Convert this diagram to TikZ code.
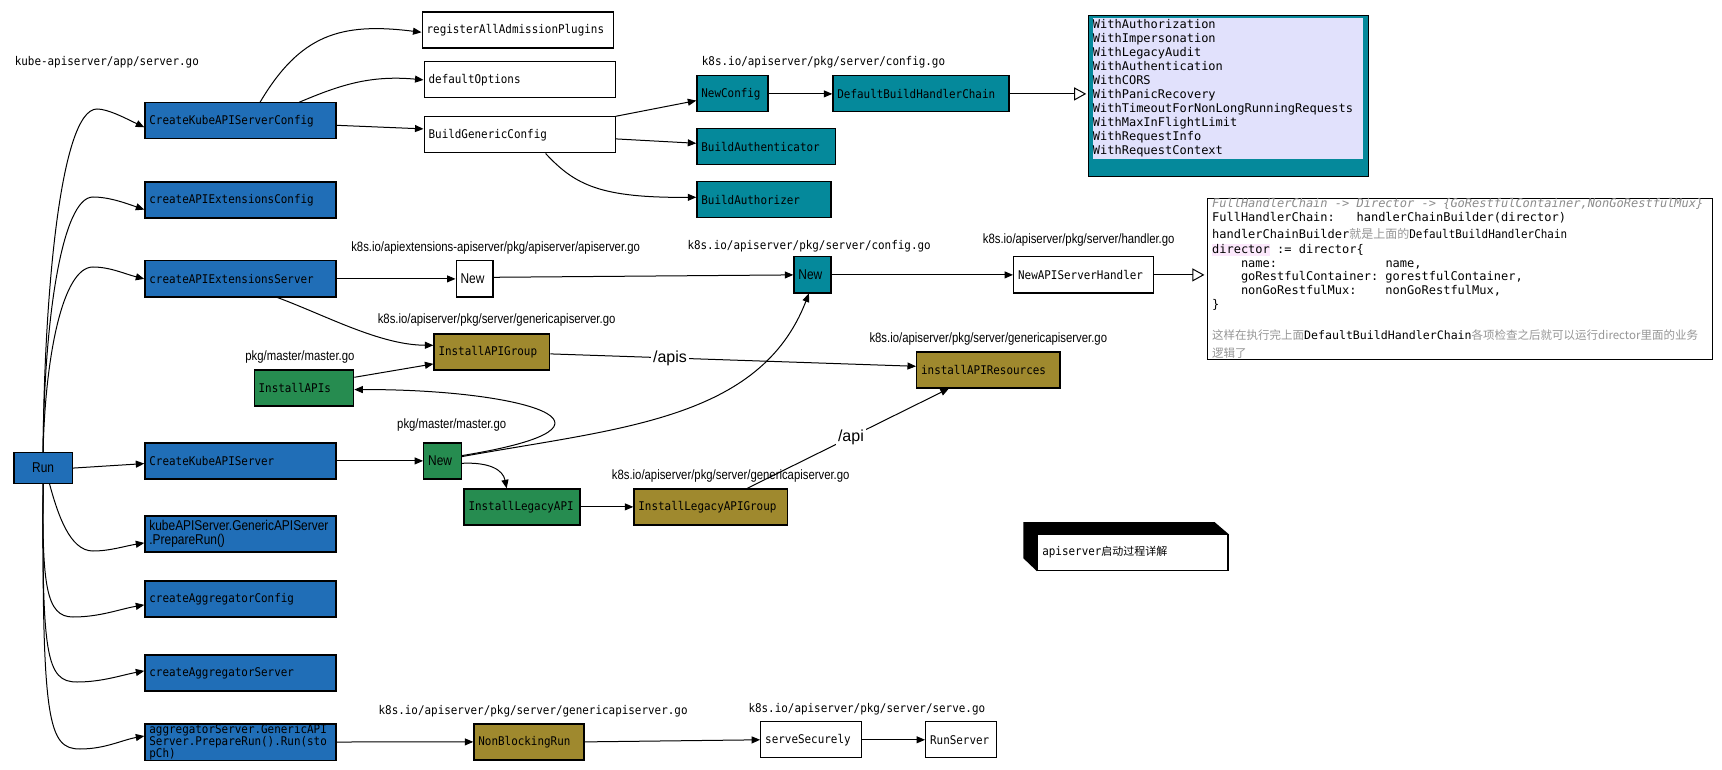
\documentclass[tikz,border=0pt]{standalone}
\usepackage{fontspec}
\usetikzlibrary{arrows.meta}
\newfontfamily\nmono[FakeStretch=0.91]{DejaVu Sans Mono}
\newfontfamily\wmono[ItalicFont={DejaVu Sans Mono Oblique}]{DejaVu Sans Mono}
\newfontfamily\hsans[FakeStretch=0.84]{Liberation Sans}
\newfontfamily\hsansb{Liberation Sans}
\newfontfamily\cjk{Noto Sans CJK SC}
\newcommand\fntN{\nmono\fontsize{12}{14}\selectfont}
\newcommand\fntS{\hsans\fontsize{13.5}{14}\selectfont}
\newcommand\fntB{\hsans\fontsize{14.2}{14}\selectfont}
\newcommand\fntW{\wmono\fontsize{12}{14}\selectfont}
\newcommand\fntL{\hsansb\fontsize{16}{16}\selectfont}
\newcommand\fntCs{\cjk\fontsize{11.5}{14}\selectfont}
\definecolor{cblue}{RGB}{32,110,183}
\definecolor{cteal}{RGB}{5,137,155}
\definecolor{colive}{RGB}{159,137,46}
\definecolor{cgreen}{RGB}{38,140,80}
\definecolor{clav}{RGB}{225,225,252}
\definecolor{cgray}{RGB}{140,140,140}
\definecolor{cgray2}{RGB}{150,150,150}
\definecolor{pinkhl}{RGB}{252,232,252}
\begin{document}
\begin{tikzpicture}[x=1pt,y=-1pt,
  bx/.style={draw=black,line width=1.2pt,anchor=north west,inner xsep=4.5pt,inner ysep=0pt,align=left,font=\fntN,minimum height=36pt},
  bbox/.style={bx,fill=cblue},
  tbox/.style={bx,fill=cteal},
  obox/.style={bx,fill=colive},
  gbox/.style={bx,fill=cgreen},
  wbx/.style={bx,fill=white},
  lbl/.style={anchor=west,inner sep=0pt,font=\fntS},
  mlbl/.style={anchor=west,inner sep=0pt,font=\fntN},
  arr/.style={line width=1pt,-{Triangle[length=8.5pt,width=7pt]}},
  harr/.style={line width=1pt,-{Triangle[open,length=12pt,width=13pt]}},
  cl/.style={anchor=base west,inner sep=0pt,font=\fntW},
]
\fill[white] (0,0) rectangle (1722,770);
\useasboundingbox (0,0) rectangle (1722,770);

% blue column
\node[bbox,text width=182pt] (ckc) at (144.3,102.3) {CreateKubeAPIServerConfig};
\node[bbox,text width=182pt] (caec) at (144.3,181.5) {createAPIExtensionsConfig};
\node[bbox,text width=182pt] (caes) at (144.3,260.3) {createAPIExtensionsServer};
\node[bbox,text width=182pt] (cks) at (144.3,442.3) {CreateKubeAPIServer};
\node[bbox,text width=182pt,font=\fntB] (kpr) at (144.3,515.3) {kubeAPIServer.GenericAPIServer\\.PrepareRun()};
\node[bbox,text width=182pt] (cac) at (144.3,580.3) {createAggregatorConfig};
\node[bbox,text width=182pt] (cas) at (144.3,654.3) {createAggregatorServer};
\node[bbox,text width=182pt,font=\nmono\fontsize{12}{12.3}\selectfont] (agg) at (144.3,723.3) {aggregatorServer.GenericAPI\\Server.PrepareRun().Run(sto\\pCh)};
\node[bbox,minimum width=58.2pt,minimum height=31pt,align=center,font=\fntB,inner xsep=0pt] (run) at (13.4,452) {Run};

% white boxes
\node[wbx,text width=182pt] (rap) at (421.5,11.5) {registerAllAdmissionPlugins};
\node[wbx,text width=182pt] (dop) at (423.5,61.3) {defaultOptions};
\node[wbx,text width=182pt] (bgc) at (423.5,116.3) {BuildGenericConfig};
\node[wbx,text width=27.8pt,font=\fntB] (nw) at (455.5,260.3) {New};
\node[wbx,text width=131pt] (nash) at (1013,256.3) {NewAPIServerHandler};
\node[wbx,text width=91.5pt] (ss) at (760.1,721.2) {serveSecurely};
\node[wbx,text width=62.2pt] (rs) at (925,721.2) {RunServer};

% teal boxes
\node[tbox,text width=62pt] (nc) at (696.3,75.3) {NewConfig};
\node[tbox,text width=167pt] (dbhc) at (832.3,75.3) {DefaultBuildHandlerChain};
\node[tbox,text width=129.4pt] (ba) at (696.3,128.3) {BuildAuthenticator};
\node[tbox,text width=125pt] (bz) at (696.3,181.3) {BuildAuthorizer};
\node[tbox,text width=28pt,font=\fntB] (nt) at (793.3,256.3) {New};

% olive boxes
\node[obox,text width=106.8pt] (iag) at (433.4,333.3) {InstallAPIGroup};
\node[obox,text width=134.3pt] (iar) at (916,351.3) {installAPIResources};
\node[obox,text width=144.2pt] (ilag) at (633.3,488.3) {InstallLegacyAPIGroup};
\node[obox,text width=101pt] (nbr) at (473.3,723.3) {NonBlockingRun};

% green boxes
\node[gbox,text width=90.6pt] (ias) at (253.5,369.3) {InstallAPIs};
\node[gbox,text width=28.6pt,font=\fntB] (ng) at (423.1,442.3) {New};
\node[gbox,text width=107pt] (ila) at (463.4,488.3) {InstallLegacyAPI};

% handler chain list
\node[draw=black,line width=1.2pt,fill=cteal,anchor=north west,minimum width=279.3pt,minimum height=161.3pt,inner sep=0pt] (wbox) at (1088.2,15) {};
\node[fill=clav,anchor=north west,minimum height=141pt,inner sep=0pt,text width=269.8pt,align=left,font=\fntW] (wlist) at (1092.7,18) {WithAuthorization\\WithImpersonation\\WithLegacyAudit\\WithAuthentication\\WithCORS\\WithPanicRecovery\\WithTimeoutForNonLongRunningRequests\\WithMaxInFlightLimit\\WithRequestInfo\\WithRequestContext};

% code note
\node[draw=black,line width=1pt,anchor=north west,minimum width=504.5pt,minimum height=161.3pt,inner sep=0pt] (code) at (1207.4,198) {};
\node[cl] (c1) at (1211.9,207.8) {\color{cgray}\itshape FullHandlerChain -> Director -> \{GoRestfulContainer,NonGoRestfulMux\}};
\node[cl] (c2) at (1211.9,221.5) {FullHandlerChain:~~~handlerChainBuilder(director)};
\node[cl] (c3) at (1211.9,238.1) {handlerChainBuilder{\cjk\fontsize{12}{14}\selectfont\color{cgray2}就是上面的}{\fntN DefaultBuildHandlerChain}};
\node[cl] (c4) at (1211.9,253.1) {{\fboxsep=0pt\colorbox{pinkhl}{\rule[-2.5pt]{0pt}{11.5pt}director}}~:=~director\{};
\node[cl] (c5) at (1211.9,267.1) {~~~~name:~~~~~~~~~~~~~~~name,};
\node[cl] (c6) at (1211.9,280.8) {~~~~goRestfulContainer:~gorestfulContainer,};
\node[cl] (c7) at (1211.9,294.5) {~~~~nonGoRestfulMux:~~~~nonGoRestfulMux,};
\node[cl] (c8) at (1211.9,308.8) {\}};
\node[cl] (c9) at (1211.9,339.1) {{\fntCs\color{cgray2}这样在执行完上面}{\wmono\fontsize{11.6}{14}\selectfont DefaultBuildHandlerChain}{\fntCs\color{cgray2}各项检查之后就可以运行director里面的业务}};
\node[cl] (c10) at (1211.9,357.1) {{\fntCs\color{cgray2}逻辑了}};

% 3D title box
\node[draw=black,line width=1.2pt,fill=white,anchor=north west,minimum width=190.4pt,minimum height=36pt,inner xsep=4.8pt,inner ysep=0pt,text width=180.8pt,align=left,font=\fntN] (note) at (1036.9,534) {apiserver{\cjk\fontsize{11}{14}\selectfont 启动过程详解}};
\fill[black] (note.south west) -- ++(-13.6,-13) -- ++(0,-36) -- ++(191.4,0) -- (note.north east) -- (note.north west) -- cycle;

% labels
\node[mlbl] (lkube) at (14.6,62) {kube-apiserver/app/server.go};
\node[mlbl] (lcfg1) at (701.7,62.3) {k8s.io/apiserver/pkg/server/config.go};
\node[lbl] (lext) at (351.1,247.7) {k8s.io/apiextensions-apiserver/pkg/apiserver/apiserver.go};
\node[mlbl] (lcfg2) at (687.3,246) {k8s.io/apiserver/pkg/server/config.go};
\node[lbl] (lhnd) at (982.7,240) {k8s.io/apiserver/pkg/server/handler.go};
\node[lbl] (lgen1) at (377.6,320.3) {k8s.io/apiserver/pkg/server/genericapiserver.go};
\node[lbl] (lmst1) at (245.2,356.7) {pkg/master/master.go};
\node[lbl] (lgen2) at (869.3,338.7) {k8s.io/apiserver/pkg/server/genericapiserver.go};
\node[lbl] (lmst2) at (397,425) {pkg/master/master.go};
\node[lbl] (lgen3) at (611.7,476) {k8s.io/apiserver/pkg/server/genericapiserver.go};
\node[mlbl] (lgen4) at (378.4,711.7) {k8s.io/apiserver/pkg/server/genericapiserver.go};
\node[mlbl] (lsrv) at (748.3,709.3) {k8s.io/apiserver/pkg/server/serve.go};

% edges from Run
\draw[arr] (run.north) .. controls (44,300) and (60,109) .. (97,109) .. controls (108,109) and (125,118) .. ([yshift=-6.4pt]ckc.west);
\draw[arr] (run.north) .. controls (44,320) and (62,197) .. (93,197) .. controls (110,197) and (128,204) .. ([yshift=-9.5pt]caec.west);
\draw[arr] (run.north) .. controls (45,360) and (62,267) .. (93,267) .. controls (110,267) and (125,274) .. (caes.west);
\draw[arr] (run.east) -- ([yshift=-2.7pt]cks.west);
\draw[arr] ([xshift=6.5pt]run.south) .. controls (58,515) and (70,551) .. (93,551) .. controls (110,551) and (125,546) .. ([yshift=-9pt]kpr.west);
\draw[arr] (run.south) .. controls (42,585) and (46,617) .. (73,617) .. controls (100,617) and (120,609) .. ([yshift=-6pt]cac.west);
\draw[arr] (run.south) .. controls (42,655) and (46,682) .. (77,682) .. controls (102,682) and (122,675) .. ([yshift=2pt]cas.west);
\draw[arr] (run.south) .. controls (42,722) and (48,749) .. (80,749) .. controls (105,749) and (122,740) .. ([yshift=6pt]agg.west);

% config branch
\draw[arr] ([xshift=19.6pt]ckc.north) .. controls (300,35) and (340,22) .. ([yshift=-2.2pt]rap.west);
\draw[arr] ([xshift=58.7pt]ckc.north) .. controls (340,85) and (370,75) .. (dop.west);
\draw[arr] ([yshift=-4.4pt]ckc.east) -- ([yshift=6pt]bgc.west);
\draw[arr] (bgc.north east) -- ([yshift=-6.7pt]nc.west);
\draw[arr] ([yshift=-4pt]bgc.east) -- ([yshift=3.6pt]ba.west);
\draw[arr] ([xshift=26pt]bgc.south) .. controls (575,185) and (600,198) .. ([yshift=2.6pt]bz.west);
\draw[arr] (nc.east) -- (dbhc.west);
\draw[harr,shorten >=2pt] (dbhc.east) -- (dbhc.east -| wbox.west);

% server branch
\draw[arr] (caes.east) -- (nw.west);
\draw[arr] ([xshift=37pt]caes.south) .. controls (327,316) and (380,345) .. ([yshift=6.6pt]iag.west);
\draw[arr] ([yshift=10.6pt]ias.east) -- ([yshift=-12pt]iag.west);
\draw[arr] ([yshift=5.3pt]ng.east) .. controls (650,425) and (520,389) .. ([yshift=-1.7pt]ias.east);
\draw[arr] ([yshift=4.3pt]ng.east) .. controls (620,428) and (760,420) .. ([xshift=-3.5pt]nt.south);
\draw[arr] ([yshift=1.6pt]nw.east) -- (nt.west);
\draw[arr] (nt.east) -- (nash.west);
\draw[harr,shorten >=3pt] (nash.east) -- (nash.east -| code.west);
\draw[arr] ([yshift=-2pt]iag.east) -- node[pos=0.327,fill=white,inner sep=2pt,font=\fntL] (lapis) {/apis} ([yshift=3.6pt]iar.west);
\draw[arr] ([yshift=-2.4pt]ng.east) .. controls (490,462) and (503,470) .. ([xshift=-15.35pt]ila.north);
\draw[arr] (ila.east) -- (ilag.west);
\draw[arr] ([xshift=36.8pt]ilag.north) -- node[pos=0.514,fill=white,inner sep=2pt,font=\fntL] (lapi) {/api} ([xshift=-39.35pt]iar.south);
\draw[arr] (cks.east) -- (ng.west);

% run branch
\draw[arr] (agg.east) -- (nbr.west);
\draw[arr] (nbr.east) -- (ss.west);
\draw[arr] (ss.east) -- (rs.west);
\end{tikzpicture}
\end{document}
